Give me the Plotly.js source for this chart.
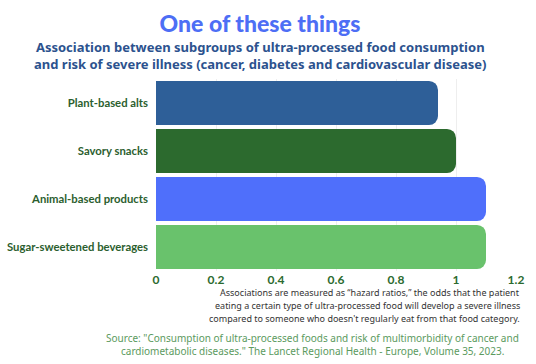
<!DOCTYPE html>
<html>
<head>
<meta charset="utf-8">
<script src="https://cdn.plot.ly/plotly-3.0.1.min.js"></script>
<style>html,body{margin:0;padding:0;background:#fff;}#chart{width:536px;height:364px;}</style>
</head>
<body>
<div id="chart"></div>
<script>
const categories = ["Plant-based alts", "Savory snacks", "Animal-based products", "Sugar-sweetened beverages"];
const hazardRatios = [0.94, 1.00, 1.10, 1.10];
const barColors = ["#2e5f98", "#2c6a2e", "#4f6ffb", "#69c26c"];
const tickValues = [0, 0.2, 0.4, 0.6, 0.8, 1, 1.2];
const tickLabels = ["0", "0.2", "0.4", "0.6", "0.8", "1", "1.2"];

const titleText = "One of these things";
const subtitleLines = [
  "Association between subgroups of ultra-processed food consumption",
  "and risk of severe illness (cancer, diabetes and cardiovascular disease)"
];
const noteLines = [
  "Associations are measured as “hazard ratios,” the odds that the patient",
  "eating a certain type of ultra-processed food will develop a severe illness",
  "compared to someone who doesn't regularly eat from that food category."
];
const sourceLines = [
  "Source: \"Consumption of ultra-processed foods and risk of multimorbidity of cancer and",
  "cardiometabolic diseases.\" The Lancet Regional Health - Europe, Volume 35, 2023."
];

const trace = {
  type: "bar",
  orientation: "h",
  x: hazardRatios,
  y: categories,
  marker: {color: barColors, cornerradius: 9},
  hoverinfo: "x+y"
};

// pixel helpers for annotation placement (plot area: x 156..516, y 79..271)
const px = x => (x - 156) / 360;
const py = y => (271 - y) / 192;

const annotations = [];
annotations.push({
  text: "<b>" + subtitleLines.join("<br>") + "</b>", xref: "paper", yref: "paper",
  x: px(260), y: py(55), xanchor: "center", yanchor: "middle", align: "center",
  showarrow: false, font: {family: "'Noto Sans', sans-serif", size: 13, color: "#2c528e"}
});
const noteY = [292, 305.5, 318.5];
noteLines.forEach((t, i) => annotations.push({
  text: t, xref: "paper", yref: "paper",
  x: px(522), y: py(noteY[i]), xanchor: "right", yanchor: "middle",
  showarrow: false, font: {family: "'Noto Sans', sans-serif", size: 9, color: "#333333"}
}));
const srcY = [338, 351];
sourceLines.forEach((t, i) => annotations.push({
  text: t, xref: "paper", yref: "paper",
  x: px(312), y: py(srcY[i]), xanchor: "center", yanchor: "middle",
  showarrow: false, font: {family: "'Noto Sans', sans-serif", size: 10, color: "#5b9a5e"}
}));

const layout = {
  width: 536, height: 364,
  margin: {l: 156, r: 20, t: 79, b: 93},
  paper_bgcolor: "#ffffff",
  plot_bgcolor: "#ffffff",
  bargap: 0.08,
  showlegend: false,
  font: {family: "Lato, 'Noto Sans', sans-serif"},
  title: {
    text: titleText,
    font: {family: "Lato, sans-serif", size: 23, color: "#4d6ef5", weight: 900},
    x: (260 / 536), xanchor: "center",
    yref: "container", y: 1 - 24/364, yanchor: "middle"
  },
  xaxis: {
    range: [0, 1.2],
    tickvals: tickValues,
    ticktext: tickLabels,
    tickfont: {family: "Lato, sans-serif", size: 12, color: "#2b6a2e", weight: "bold"},
    showgrid: true, gridcolor: "#eeeeee", gridwidth: 1,
    zeroline: false, showline: false,
    fixedrange: true
  },
  yaxis: {
    autorange: "reversed",
    tickfont: {family: "Lato, sans-serif", size: 11.3, color: "#2b5e2e", weight: "bold"},
    ticklabelstandoff: 7,
    showgrid: false, zeroline: false, showline: false,
    fixedrange: true
  },
  annotations: annotations
};

Plotly.newPlot("chart", [trace], layout, {displayModeBar: false, staticPlot: true});
</script>
</body>
</html>
